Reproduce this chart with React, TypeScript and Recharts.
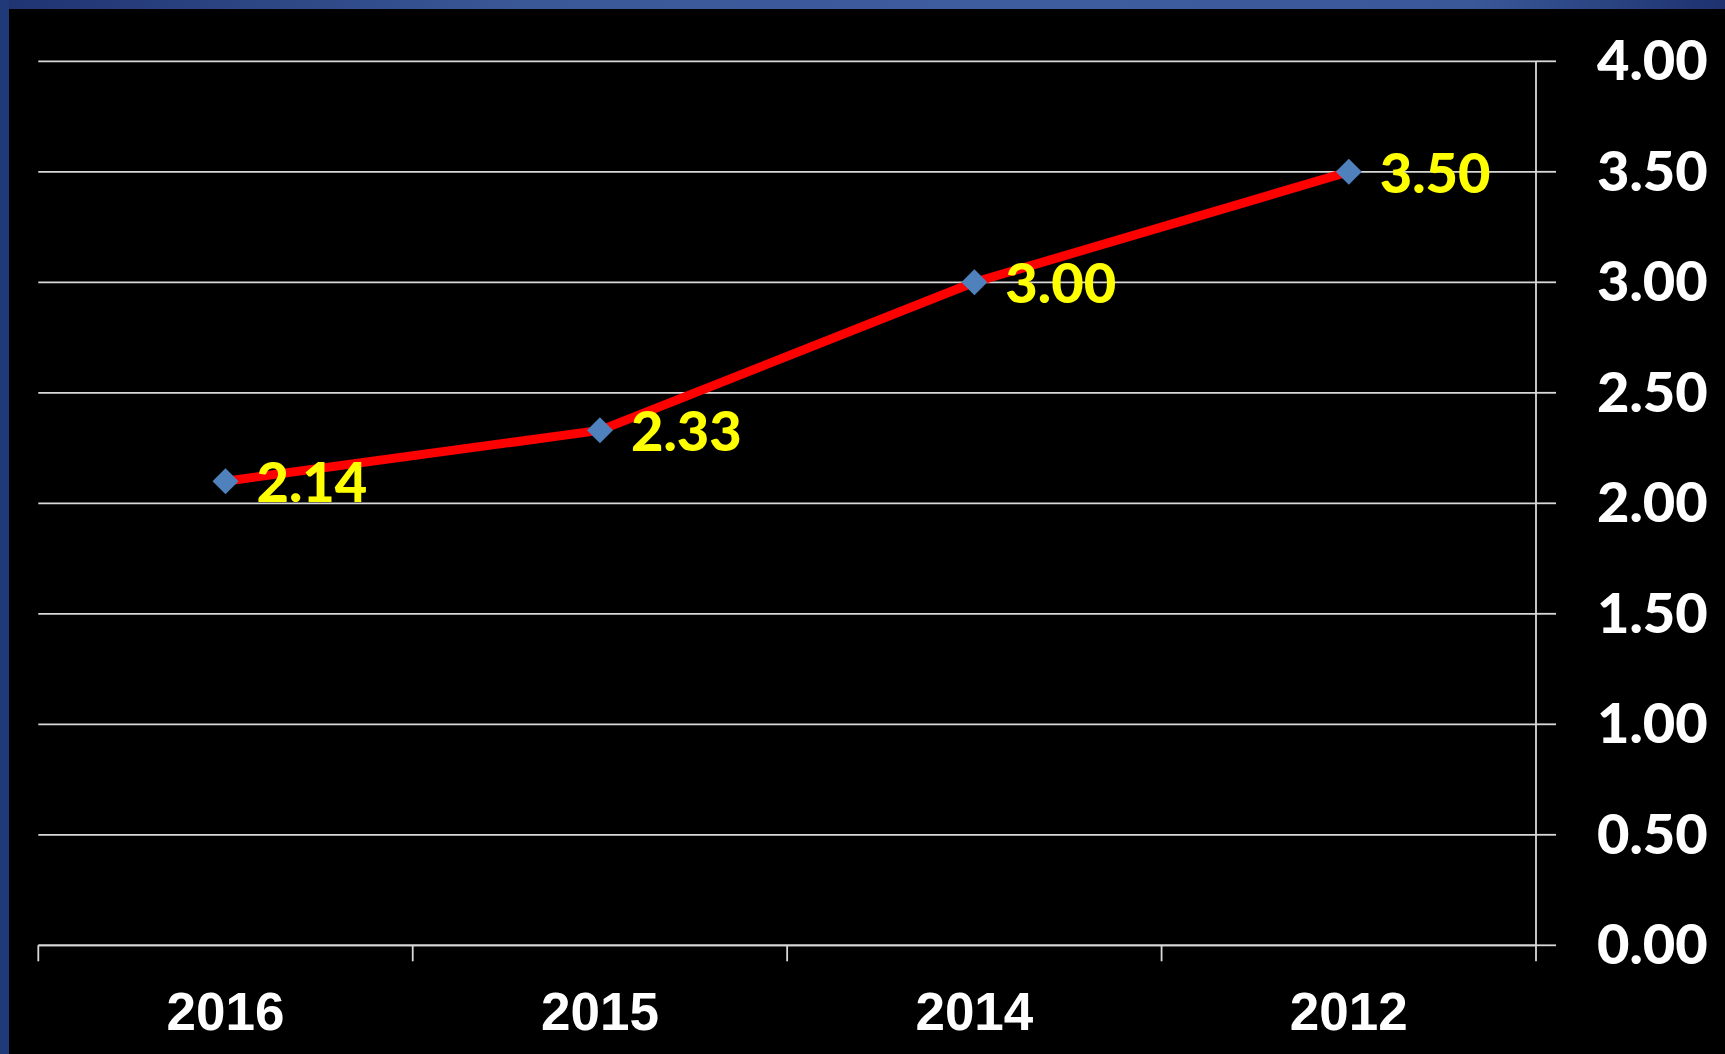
import React from 'react';
import { LineChart, Line, XAxis, YAxis, CartesianGrid, LabelList } from 'recharts';

const years = ['2016', '2015', '2014', '2012'];
const values = [2.1, 2.33, 3.0, 3.5];
const valueLabels = ['2.14', '2.33', '3.00', '3.50'];
const yTicks = [0, 0.5, 1, 1.5, 2, 2.5, 3, 3.5, 4];

const data = years.map((y, i) => ({ year: y, value: values[i], label: valueLabels[i] }));

const W = 1725;
const H = 1054;
const GRID = '#d9d9d9';
const NUM_FONT = "Lato, 'Open Sans', sans-serif";
const NUM_WEIGHT = 900;

const XTick = (props: any) => {
  const { x, y, payload, index } = props;
  const half = payload && typeof payload.offset === 'number' && payload.offset > 0 ? payload.offset : (1536 - 38.3) / 8;
  const last = index === years.length - 1;
  return (
    <g>
      <line x1={x - half} y1={y} x2={x - half} y2={y + 16} stroke={GRID} strokeWidth={1.8} />
      {last && <line x1={x + half} y1={y} x2={x + half} y2={y + 16} stroke={GRID} strokeWidth={1.8} />}
      <text
        x={x}
        y={y + 85}
        textAnchor="middle"
        fill="#ffffff"
        fontSize={53}
        fontWeight={700}
        fontFamily="'Liberation Sans', Arial, sans-serif"
      >
        {payload.value}
      </text>
    </g>
  );
};

const YTick = (props: any) => {
  const { x, y, payload } = props;
  return (
    <text
      x={x}
      y={y + 19}
      textAnchor="start"
      fill="#ffffff"
      fontSize={56}
      fontWeight={NUM_WEIGHT}
      fontFamily={NUM_FONT}
    >
      {Number(payload.value).toFixed(2)}
    </text>
  );
};

const Diamond = (props: any) => {
  const { cx, cy } = props;
  if (cx == null || cy == null) return null;
  const r = 13;
  return (
    <polygon
      points={`${cx},${cy - r} ${cx + r},${cy} ${cx},${cy + r} ${cx - r},${cy}`}
      fill="#4F81BD"
    />
  );
};

const ValueLabel = (props: any) => {
  const { x, y, value } = props;
  return (
    <text
      x={x + 31}
      y={y + 21}
      textAnchor="start"
      fill="#FFFF00"
      fontSize={56}
      fontWeight={NUM_WEIGHT}
      fontFamily={NUM_FONT}
    >
      {value}
    </text>
  );
};

export default function App() {
  return (
    <div style={{ position: 'absolute', left: 0, top: 0, width: W, height: H, background: '#000000', overflow: 'hidden' }}>
      <div style={{ position: 'absolute', left: 0, top: 0, width: W, height: 9, background: 'linear-gradient(to right, #1f3471 0%, #3a5796 30%, #3e5d9f 60%, #3a5898 85%, #1d326f 100%)' }} />
      <div style={{ position: 'absolute', left: 0, top: 0, width: 9, height: H, background: '#203979' }} />
      <div style={{ position: 'absolute', left: 0, top: 0 }}>
        <LineChart
          width={W}
          height={H}
          data={data}
          margin={{ top: 61.3, left: 38.3, right: 9, bottom: 8.7 }}
        >
          <CartesianGrid horizontal vertical={false} stroke={GRID} strokeWidth={1.8} />
          <XAxis
            dataKey="year"
            scale="band"
            height={100}
            tickSize={0}
            tickMargin={0}
            tickLine={false}
            axisLine={{ stroke: GRID, strokeWidth: 1.8 }}
            tick={<XTick />}
            interval={0}
          />
          <YAxis
            orientation="right"
            width={180}
            domain={[0, 4]}
            ticks={yTicks}
            tickSize={20}
            tickMargin={41}
            tickLine={{ stroke: GRID, strokeWidth: 1.8 }}
            axisLine={{ stroke: GRID, strokeWidth: 1.8 }}
            tick={<YTick />}
            interval={0}
          />
          <Line
            type="linear"
            dataKey="value"
            stroke="#FF0000"
            strokeWidth={9}
            strokeLinejoin="round"
            dot={<Diamond />}
            activeDot={false}
            isAnimationActive={false}
          >
            <LabelList dataKey="label" content={<ValueLabel />} />
          </Line>
        </LineChart>
      </div>
    </div>
  );
}
